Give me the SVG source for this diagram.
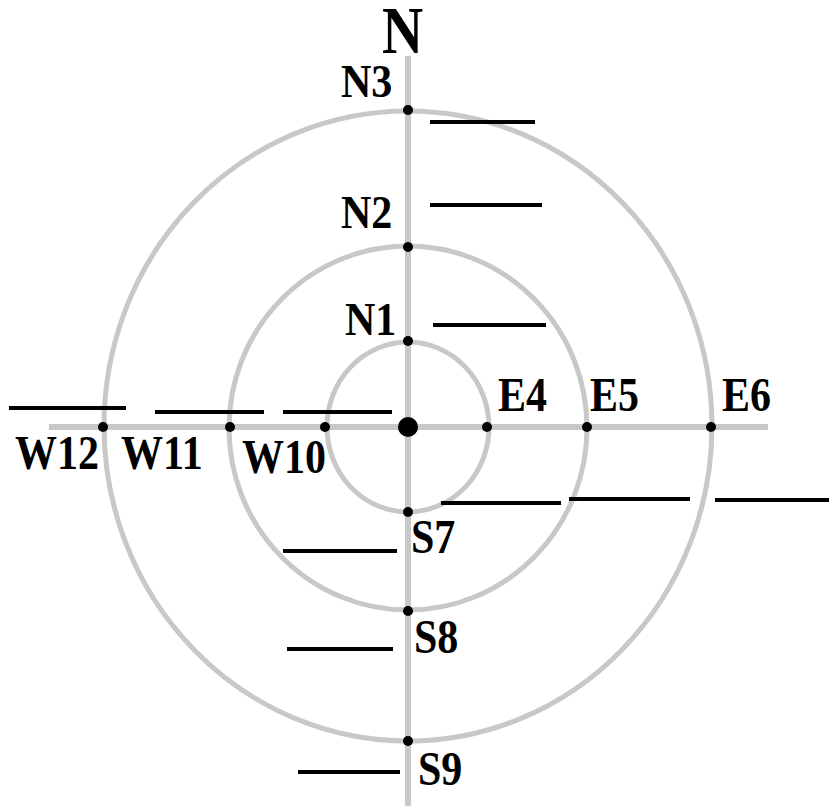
<svg xmlns="http://www.w3.org/2000/svg" width="829" height="806" viewBox="0 0 829 806">
  <style>
    .ring { fill: none; stroke: #c8c8c8; stroke-width: 5; }
    .axis { stroke: #c8c8c8; stroke-width: 6; }
    .dot { fill: #000; }
    .blank { stroke: #000; stroke-width: 4; }
    .lbl { font-family: "Liberation Serif", "Times New Roman", serif; font-weight: bold; font-size: 42px; fill: #000; }
    .north { font-family: "Liberation Serif", "Times New Roman", serif; font-weight: bold; font-size: 57px; fill: #000; }
  </style>
  <rect width="829" height="806" fill="#fff"/>

  <!-- rings and axes -->
  <g id="connectors">
    <ellipse class="ring" cx="408" cy="427" rx="81" ry="85"/>
    <ellipse class="ring" cx="408" cy="428" rx="179" ry="182"/>
    <ellipse class="ring" cx="408" cy="426" rx="304" ry="315"/>
    <line class="axis" x1="408" y1="56" x2="408" y2="806"/>
    <line class="axis" x1="49" y1="427" x2="768" y2="427"/>
  </g>

  <g id="north">
    <text class="north" transform="translate(382,53) scale(1,1.17)">N</text>
  </g>

  <g id="center"><circle class="dot" cx="408" cy="427" r="10"/></g>

  <g id="N3">
    <circle class="dot" cx="408" cy="110" r="5"/>
    <text class="lbl" transform="translate(341,97) scale(1,1.13)">N3</text>
    <line class="blank" x1="430" y1="122" x2="535" y2="122"/>
  </g>
  <g id="N2">
    <circle class="dot" cx="408" cy="247" r="5"/>
    <text class="lbl" transform="translate(341,228) scale(1,1.13)">N2</text>
    <line class="blank" x1="430" y1="205" x2="542" y2="205"/>
  </g>
  <g id="N1">
    <circle class="dot" cx="408" cy="341" r="5"/>
    <text class="lbl" transform="translate(345,335) scale(1,1.13)">N1</text>
    <line class="blank" x1="433" y1="325" x2="546" y2="325"/>
  </g>

  <g id="E4">
    <circle class="dot" cx="487" cy="427" r="5"/>
    <text class="lbl" transform="translate(498,411) scale(1,1.15)">E4</text>
    <line class="blank" x1="441" y1="503" x2="561" y2="503"/>
  </g>
  <g id="E5">
    <circle class="dot" cx="587" cy="427" r="5"/>
    <text class="lbl" transform="translate(590,411) scale(1,1.15)">E5</text>
    <line class="blank" x1="569" y1="499" x2="690" y2="499"/>
  </g>
  <g id="E6">
    <circle class="dot" cx="711" cy="427" r="5"/>
    <text class="lbl" transform="translate(722,411) scale(1,1.15)">E6</text>
    <line class="blank" x1="715" y1="500" x2="829" y2="500"/>
  </g>

  <g id="S7">
    <circle class="dot" cx="408" cy="512" r="5"/>
    <text class="lbl" transform="translate(411,553) scale(1,1.15)">S7</text>
    <line class="blank" x1="283" y1="551" x2="397" y2="551"/>
  </g>
  <g id="S8">
    <circle class="dot" cx="408" cy="611" r="5"/>
    <text class="lbl" transform="translate(414,653) scale(1,1.15)">S8</text>
    <line class="blank" x1="287" y1="649" x2="393" y2="649"/>
  </g>
  <g id="S9">
    <circle class="dot" cx="408" cy="741" r="5"/>
    <text class="lbl" transform="translate(418,785) scale(1,1.15)">S9</text>
    <line class="blank" x1="298" y1="772" x2="400" y2="772"/>
  </g>

  <g id="W10">
    <circle class="dot" cx="325" cy="427" r="5"/>
    <text class="lbl" transform="translate(242,473) scale(1,1.15)">W10</text>
    <line class="blank" x1="283" y1="412" x2="392" y2="412"/>
  </g>
  <g id="W11">
    <circle class="dot" cx="230" cy="427" r="5"/>
    <text class="lbl" transform="translate(121,469) scale(1,1.15)">W11</text>
    <line class="blank" x1="155" y1="412" x2="264" y2="412"/>
  </g>
  <g id="W12">
    <circle class="dot" cx="103" cy="427" r="5"/>
    <text class="lbl" transform="translate(15,469) scale(1,1.15)">W12</text>
    <line class="blank" x1="9" y1="408" x2="126" y2="408"/>
  </g>
</svg>
